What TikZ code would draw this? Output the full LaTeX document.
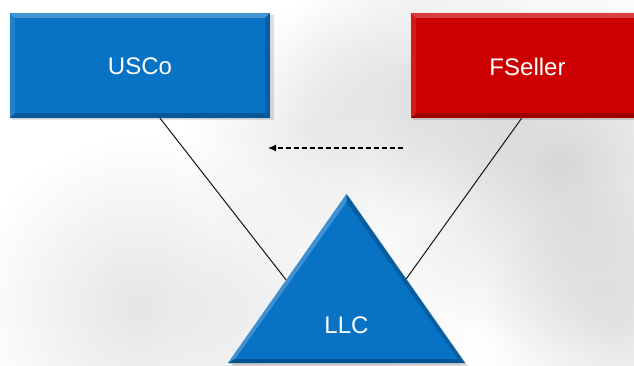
\documentclass[tikz,border=0pt]{standalone}
\usepackage{fontspec}
\setmainfont{Liberation Sans}
\usetikzlibrary{calc,arrows.meta,fadings}

\definecolor{boxblue}{RGB}{8,114,196}
\definecolor{boxred}{RGB}{204,0,0}
\definecolor{linkgray}{RGB}{20,20,20}

\tikzfading[name=softspot, inner color=transparent!0, outer color=transparent!100]

% beveled rectangle: #1 node name, #2 fill colour
\newcommand\bevelrect[2]{%
  \fill[#2!55!white,opacity=.55] (#1.north west) -- (#1.north east)
    -- ([xshift=-5pt,yshift=-5pt]#1.north east) -- ([xshift=5pt,yshift=-5pt]#1.north west) -- cycle;
  \fill[#2!70!white,opacity=.35] (#1.north west) -- ([xshift=5pt,yshift=-5pt]#1.north west)
    -- ([xshift=5pt,yshift=5pt]#1.south west) -- (#1.south west) -- cycle;
  \fill[#2!60!black,opacity=.55] (#1.south west) -- (#1.south east)
    -- ([xshift=-5pt,yshift=5pt]#1.south east) -- ([xshift=5pt,yshift=5pt]#1.south west) -- cycle;
  \fill[#2!65!black,opacity=.45] (#1.north east) -- ([xshift=-5pt,yshift=-5pt]#1.north east)
    -- ([xshift=-5pt,yshift=5pt]#1.south east) -- (#1.south east) -- cycle;
}

\tikzset{
  x=1pt, y=1pt,
  entity/.style={rectangle, minimum height=105pt, inner sep=0pt, text=white,
    font=\fontsize{24}{28}\selectfont},
  usbox/.style={entity, fill=boxblue, minimum width=260pt},
  forbox/.style={entity, fill=boxred, minimum width=233pt},
  trilabel/.style={text=white, font=\fontsize{24}{28}\selectfont, inner sep=0pt},
  link/.style={draw=linkgray, line width=1pt},
  flow/.style={draw=black, line width=1.1pt, dash pattern=on 5pt off 3pt,
    -{Latex[length=8pt,width=7pt]}},
  shadowfill/.style={fill=black, opacity=.12},
  haze/.style={fill=black, path fading=softspot},
}

\begin{document}
\begin{tikzpicture}
\useasboundingbox (0,0) rectangle (634,365);
\clip (0,0) rectangle (634,365);

% textured light background
\fill[white] (0,0) rectangle (634,365);
\fill[haze, opacity=.16] (560,200) circle (190);
\fill[haze, opacity=.10] (420,290) circle (140);
\fill[haze, opacity=.10] (140,60) circle (170);
\fill[haze, opacity=.08] (310,230) circle (130);
\fill[haze, opacity=.10] (620,40) circle (140);
\fill[haze, opacity=.06] (330,40) circle (160);

% triangle corners
\coordinate (apex) at (346.5,171);
\coordinate (bl) at (228,2);
\coordinate (br) at (465,2);

% shadows behind the boxes
\fill[shadowfill] (12,245) rectangle (274,350);
\fill[shadowfill] (413,245) rectangle (646,350);

% entity boxes
\node[usbox] (usco) at (140,299.5) {};
\node[forbox] (fseller) at (527.5,299.5) {};
\bevelrect{usco}{boxblue}
\bevelrect{fseller}{boxred}
\node[text=white, font=\fontsize{24}{28}\selectfont] (uscolabel) at ([yshift=-1pt]usco.center) {USCo};
\node[text=white, font=\fontsize{24}{28}\selectfont] (fsellerlabel) at ([yshift=-1pt]fseller.center) {FSeller};

% ownership links
\coordinate (usfoot) at ($(usco.south west)!0.577!(usco.south east)$);
\coordinate (forfoot) at ($(fseller.south west)!0.475!(fseller.south east)$);
\coordinate (lefthit) at ($(apex)!0.509!(bl)$);
\coordinate (righthit) at ($(apex)!0.503!(br)$);
\draw[link] (usfoot) -- (lefthit);
\draw[link] (forfoot) -- (righthit);

% LLC triangle with bevel
\fill[black, opacity=.15] ($(apex)+(2,-2)$) -- ($(br)+(3,-3)$) -- ($(bl)+(3,-3)$) -- cycle;
\fill[boxblue] (apex) -- (br) -- (bl) -- cycle;
\fill[boxblue!55!white, opacity=.5] (apex) -- (bl) -- ($(bl)+(7,4)$) -- ($(apex)+(0,-8)$) -- cycle;
\fill[boxblue!60!black, opacity=.45] (apex) -- (br) -- ($(br)+(-7,4)$) -- ($(apex)+(0,-8)$) -- cycle;
\fill[boxblue!55!black, opacity=.6] (bl) -- (br) -- ($(br)+(-7,4)$) -- ($(bl)+(7,4)$) -- cycle;
\node[trilabel] (llc) at (346.5,40) {LLC};

% dashed flow
\coordinate (flowstart) at (403,217);
\coordinate (flowend) at (268,217);
\draw[flow] (flowstart) -- (flowend);
\end{tikzpicture}
\end{document}
